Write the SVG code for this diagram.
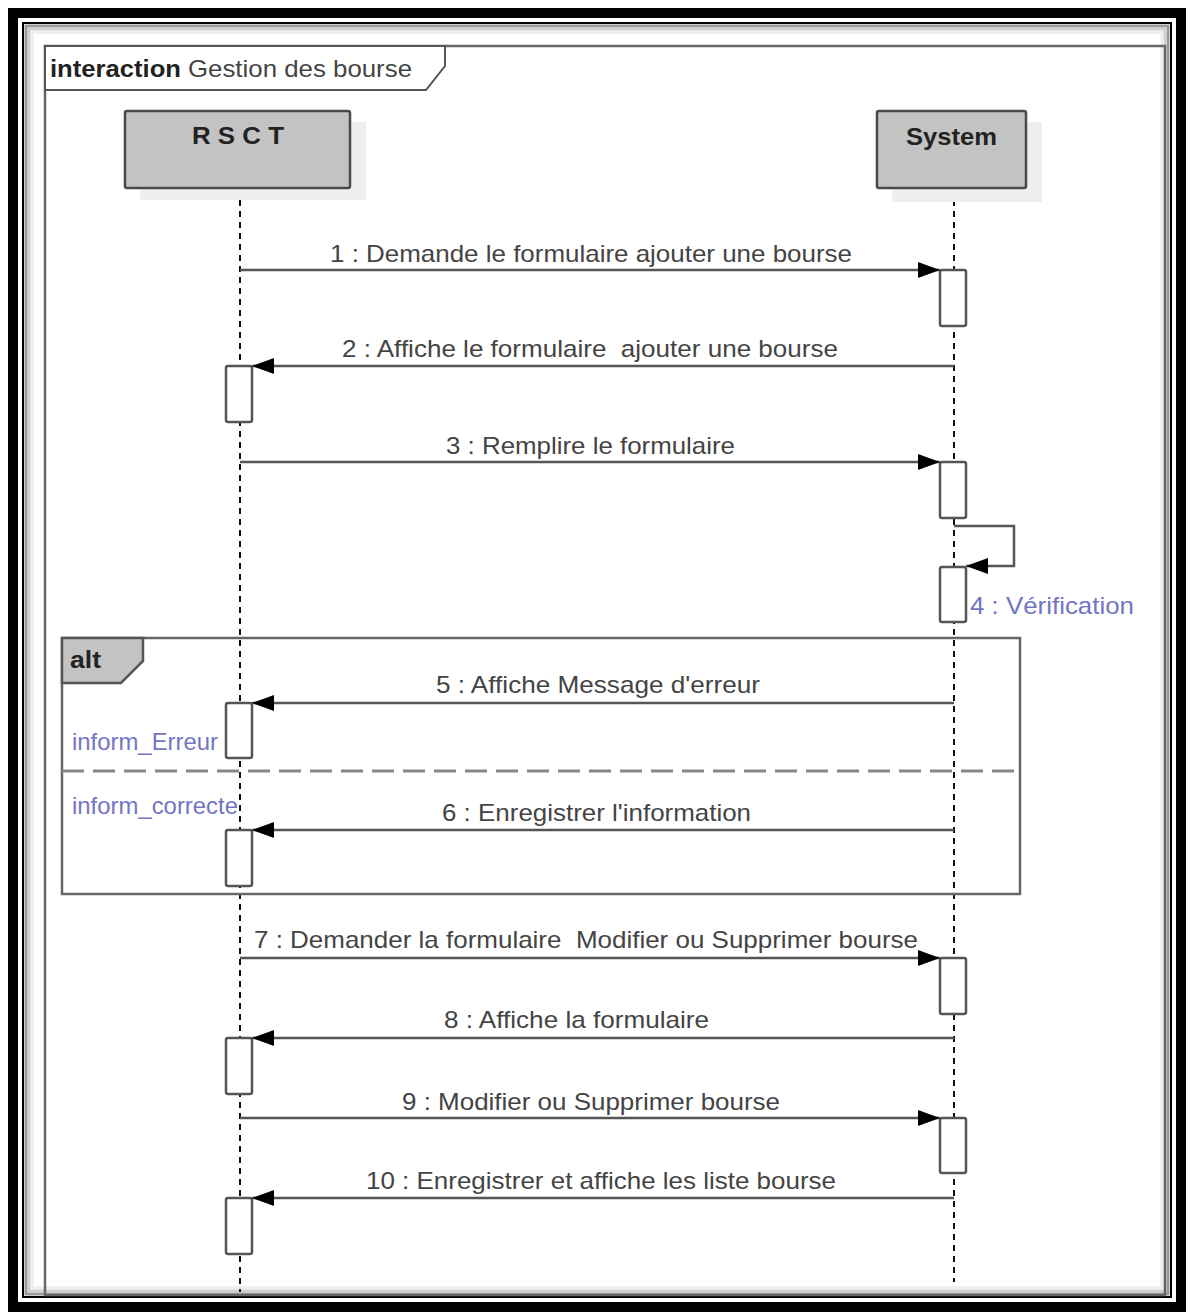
<svg xmlns="http://www.w3.org/2000/svg" width="1190" height="1314" viewBox="0 0 1190 1314">
<defs>
<style>
.t{font-family:"Liberation Sans",Arial,sans-serif;font-size:24px;fill:#444;}
.b{font-weight:bold;fill:#222;}
.p{fill:#7474c6;}
.msg{stroke:#555;stroke-width:2.5;fill:none;}
.life{stroke:#111;stroke-width:2;stroke-dasharray:6 5;fill:none;}
.act{fill:#fff;stroke:#555;stroke-width:2.5;}
.head{fill:#c3c3c3;stroke:#4a4a4a;stroke-width:2.5;}
.shadow{fill:#efefef;}
.frame{fill:none;stroke:#666;stroke-width:2.5;}
</style>
<marker id="ah" markerWidth="22" markerHeight="16" refX="22" refY="8" orient="auto" markerUnits="userSpaceOnUse">
<path d="M0,0 L22,8 L0,16 Z" fill="#000"/>
</marker>
</defs>
<rect width="1190" height="1314" fill="#fff"/>
<!-- outer border -->
<rect x="13" y="13" width="1168" height="1294" fill="none" stroke="#000" stroke-width="10"/>
<rect x="23" y="23" width="1148" height="1274" fill="none" stroke="#000" stroke-width="2"/>
<rect x="26" y="26" width="1142" height="1268" fill="none" stroke="#9a9a9a" stroke-width="3"/>
<rect x="29" y="29" width="1136" height="1262" fill="none" stroke="#cfcfcf" stroke-width="3"/>
<rect x="32" y="32" width="1130" height="1256" fill="none" stroke="#ececec" stroke-width="3"/>
<!-- interaction frame -->
<g id="frame">
<rect class="frame" x="45" y="46" width="1120" height="1249"/>
<path d="M45,46 H445 V66 L426,90 H45 Z" fill="#fff" stroke="#555" stroke-width="2"/>
<text class="t b" x="50" y="77" textLength="131" lengthAdjust="spacingAndGlyphs">interaction</text>
<text class="t" x="188" y="77" textLength="224" lengthAdjust="spacingAndGlyphs">Gestion des bourse</text>
</g>
<!-- lifelines -->
<g id="lifelines">
<line class="life" x1="240" y1="189" x2="240" y2="1292"/>
<line class="life" x1="954" y1="189" x2="954" y2="1282"/>
</g>
<g id="RSCT">
<rect class="shadow" x="140" y="122" width="226" height="78"/>
<rect class="head" x="125" y="111" width="225" height="77" rx="2"/>
<text class="t b" x="192" y="144" textLength="92" lengthAdjust="spacingAndGlyphs">R S C T</text>
</g>
<g id="System">
<rect class="shadow" x="892" y="122" width="150" height="80"/>
<rect class="head" x="877" y="111" width="149" height="77" rx="2"/>
<text class="t b" x="906" y="145" textLength="91" lengthAdjust="spacingAndGlyphs">System</text>
</g>
<!-- alt fragment -->
<g id="alt">
<rect class="frame" x="62" y="638" width="958" height="256"/>
<path d="M62,638 H143 V661 L121,683 H62 Z" fill="#c3c3c3" stroke="#555" stroke-width="2.5"/>
<text class="t b" x="70" y="668" textLength="31" lengthAdjust="spacingAndGlyphs">alt</text>
<line x1="62" y1="771" x2="1020" y2="771" stroke="#888" stroke-width="3" stroke-dasharray="22 9"/>
<text class="t p" x="72" y="750" textLength="146" lengthAdjust="spacingAndGlyphs">inform_Erreur</text>
<text class="t p" x="72" y="814" textLength="166" lengthAdjust="spacingAndGlyphs">inform_correcte</text>
</g>
<!-- activations -->
<g id="activations">
<rect class="act" x="940" y="270" width="26" height="56" rx="2"/>
<rect class="act" x="226" y="366" width="26" height="56" rx="2"/>
<rect class="act" x="940" y="462" width="26" height="56" rx="2"/>
<rect class="act" x="940" y="567" width="26" height="55" rx="2"/>
<rect class="act" x="226" y="703" width="26" height="55" rx="2"/>
<rect class="act" x="226" y="830" width="26" height="56" rx="2"/>
<rect class="act" x="940" y="958" width="26" height="56" rx="2"/>
<rect class="act" x="226" y="1038" width="26" height="56" rx="2"/>
<rect class="act" x="940" y="1118" width="26" height="55" rx="2"/>
<rect class="act" x="226" y="1198" width="26" height="56" rx="2"/>
</g>
<!-- connectors -->
<g id="connectors">
<line class="msg" x1="240" y1="270" x2="940" y2="270" marker-end="url(#ah)"/>
<line class="msg" x1="954" y1="366" x2="252" y2="366" marker-end="url(#ah)"/>
<line class="msg" x1="240" y1="462" x2="940" y2="462" marker-end="url(#ah)"/>
<path class="msg" d="M954,526 H1014 V566 H966" marker-end="url(#ah)"/>
<line class="msg" x1="954" y1="703" x2="252" y2="703" marker-end="url(#ah)"/>
<line class="msg" x1="954" y1="830" x2="252" y2="830" marker-end="url(#ah)"/>
<line class="msg" x1="240" y1="958" x2="940" y2="958" marker-end="url(#ah)"/>
<line class="msg" x1="954" y1="1038" x2="252" y2="1038" marker-end="url(#ah)"/>
<line class="msg" x1="240" y1="1118" x2="940" y2="1118" marker-end="url(#ah)"/>
<line class="msg" x1="954" y1="1198" x2="252" y2="1198" marker-end="url(#ah)"/>
</g>
<!-- labels -->
<g id="labels">
<text class="t" x="330" y="262" textLength="522" lengthAdjust="spacingAndGlyphs">1 : Demande le formulaire ajouter une bourse</text>
<text class="t" x="342" y="357" textLength="496" lengthAdjust="spacingAndGlyphs" xml:space="preserve">2 : Affiche le formulaire  ajouter une bourse</text>
<text class="t" x="446" y="454" textLength="289" lengthAdjust="spacingAndGlyphs">3 : Remplire le formulaire</text>
<text class="t p" x="970" y="614" textLength="164" lengthAdjust="spacingAndGlyphs">4 : Vérification</text>
<text class="t" x="436" y="693" textLength="324" lengthAdjust="spacingAndGlyphs">5 : Affiche Message d'erreur</text>
<text class="t" x="442" y="821" textLength="309" lengthAdjust="spacingAndGlyphs">6 : Enregistrer l'information</text>
<text class="t" x="254" y="948" textLength="664" lengthAdjust="spacingAndGlyphs" xml:space="preserve">7 : Demander la formulaire  Modifier ou Supprimer bourse</text>
<text class="t" x="444" y="1028" textLength="265" lengthAdjust="spacingAndGlyphs">8 : Affiche la formulaire</text>
<text class="t" x="402" y="1110" textLength="378" lengthAdjust="spacingAndGlyphs">9 : Modifier ou Supprimer bourse</text>
<text class="t" x="366" y="1189" textLength="470" lengthAdjust="spacingAndGlyphs">10 : Enregistrer et affiche les liste bourse</text>
</g>
</svg>
